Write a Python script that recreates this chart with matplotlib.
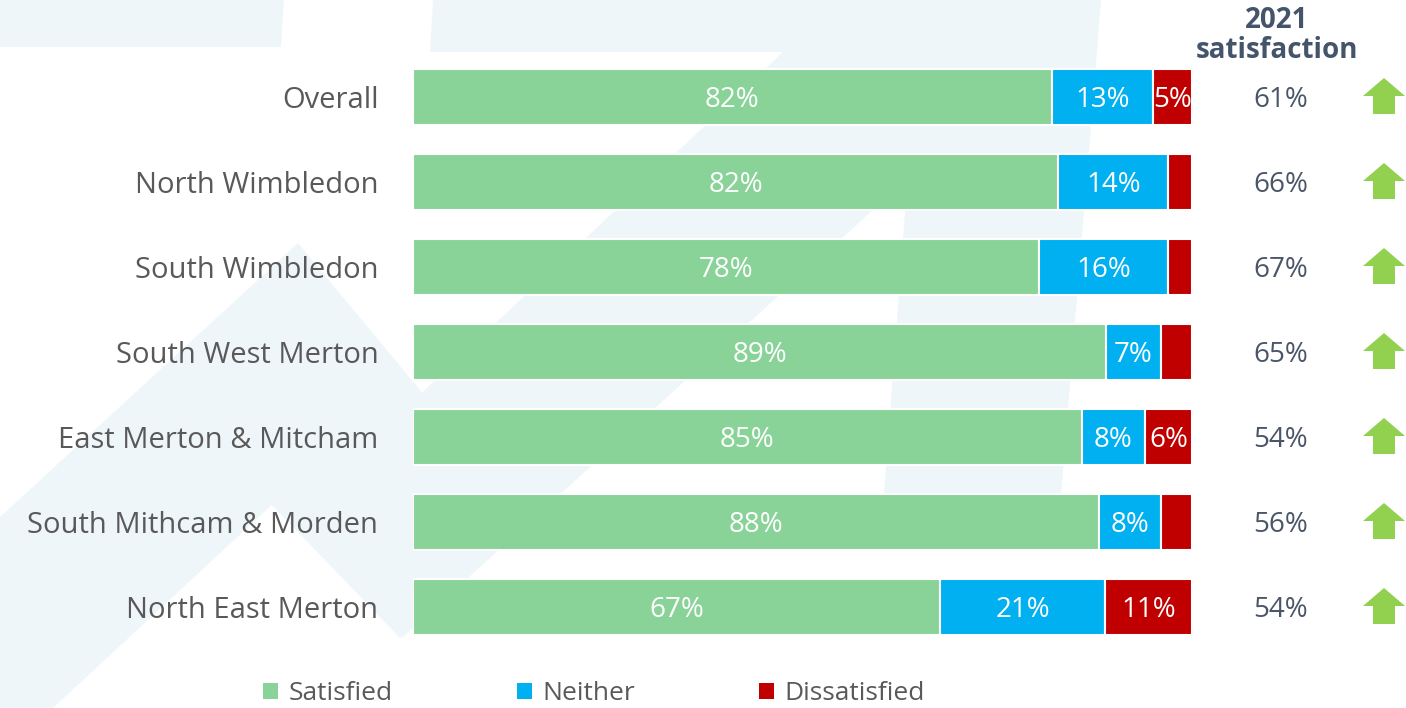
import matplotlib
matplotlib.use("Agg")
import matplotlib.pyplot as plt
from matplotlib.patches import Polygon, Patch
import numpy as np

# ---- data -------------------------------------------------------------
categories = ["Overall", "North Wimbledon", "South Wimbledon", "South West Merton",
              "East Merton & Mitcham", "South Mithcam & Morden", "North East Merton"]
satisfied = [82, 82, 78, 89, 85, 88, 67]
neither = [13, 14, 16, 7, 8, 8, 21]
dissatisfied = [5, 3, 3, 4, 6, 4, 11]
satisfaction_2021 = [61, 66, 67, 65, 54, 56, 54]
series_names = ["Satisfied", "Neither", "Dissatisfied"]

# ---- style ------------------------------------------------------------
W, H = 1406, 708
GREEN, BLUE, RED = "#89d399", "#00b0f0", "#c00000"
ARROW_GREEN = "#92d050"
LABEL_GREY = "#595959"
SLATE = "#44546a"
WATERMARK = "#eff6fa"

plt.rcParams["font.family"] = ["Open Sans", "DejaVu Sans"]

fig = plt.figure(figsize=(W / 100, H / 100), dpi=100)

# faint watermark shapes behind the chart (figure pixel space)
bg = fig.add_axes([0, 0, 1, 1], zorder=0)
bg.set_xlim(0, W)
bg.set_ylim(H, 0)
bg.axis("off")
watermark_shapes = [
    [(0, 0), (284, 0), (281, 47), (0, 47)],
    [(433, 0), (1101, 0), (1097, 52), (430, 52)],
    [(917, 52), (1097, 52), (1059, 520), (882, 520)],
    [(783, 52), (1047, 52), (402, 638), (272, 505), (414, 400)],
    [(0, 517), (298, 243), (430, 402), (400, 638), (272, 505), (53, 708), (0, 708)],
]
for shape in watermark_shapes:
    bg.add_patch(Polygon(shape, closed=True, facecolor=WATERMARK, edgecolor="none"))

# ---- main stacked bar axes ---------------------------------------------
n = len(categories)
row_px = 85
top_px = 97 - row_px / 2
ax = fig.add_axes([413 / W, (H - (top_px + n * row_px)) / H, 779 / W, n * row_px / H], zorder=1)
ax.patch.set_alpha(0)

sat = np.array(satisfied, float)
nei = np.array(neither, float)
dis = np.array(dissatisfied, float)
total = sat + nei + dis
y = np.arange(n)

left = np.zeros(n)
for raw, color, min_label in [(sat, GREEN, 0), (nei, BLUE, 0), (dis, RED, 5)]:
    share = raw / total
    ax.barh(y, share, left=left, height=0.65, color=color,
            edgecolor="white", linewidth=1.5)
    for i in range(n):
        if raw[i] >= min_label:
            ax.text(left[i] + share[i] / 2, y[i] + 0.04, f"{raw[i]:.0f}%",
                    ha="center", va="center", color="white", fontsize=20)
    left = left + share

ax.set_xlim(0, 1)
ax.set_ylim(n - 0.5, -0.5)
ax.set_xticks([])
ax.set_yticks(y, categories)
ax.tick_params(axis="y", length=0, pad=25, labelsize=21, labelcolor=LABEL_GREY)
for s in ax.spines.values():
    s.set_visible(False)

# ---- 2021 comparison column --------------------------------------------
px_x = 1 / 779
px_y = 1 / row_px
val_x = (1253 - 413) * px_x
arrow_x = (1384 - 413) * px_x
for i, v in enumerate(satisfaction_2021):
    ax.text(val_x, y[i] + 0.03, f"{v}%", ha="left", va="center",
            color="#4a5568", fontsize=20, clip_on=False)
    arrow = [
        (arrow_x, y[i] - 19 * px_y),
        (arrow_x + 21 * px_x, y[i] - 1 * px_y),
        (arrow_x + 11 * px_x, y[i] - 1 * px_y),
        (arrow_x + 11 * px_x, y[i] + 17 * px_y),
        (arrow_x - 11 * px_x, y[i] + 17 * px_y),
        (arrow_x - 11 * px_x, y[i] - 1 * px_y),
        (arrow_x - 21 * px_x, y[i] - 1 * px_y),
    ]
    ax.add_patch(Polygon(arrow, closed=True, facecolor=ARROW_GREEN,
                         edgecolor="none", clip_on=False))

fig.text(1277 / W, 1 - 20 / H, "2021", ha="center", va="center",
         fontsize=20, fontweight="bold", color=SLATE)
fig.text(1277 / W, 1 - 50 / H, "satisfaction", ha="center", va="center",
         fontsize=20, fontweight="bold", color=SLATE)

# ---- legend -----------------------------------------------------------
handles = [Patch(facecolor=c, edgecolor="none") for c in (GREEN, BLUE, RED)]
fig.legend(handles, series_names, loc="center", bbox_to_anchor=(594 / W, 1 - 694 / H),
           ncol=3, frameon=False, fontsize=19, labelcolor=LABEL_GREY,
           handlelength=0.57, handleheight=0.57, handletextpad=0.4,
           columnspacing=4.7, borderpad=0, borderaxespad=0)

fig.savefig("out.png", dpi=100, facecolor="white")
